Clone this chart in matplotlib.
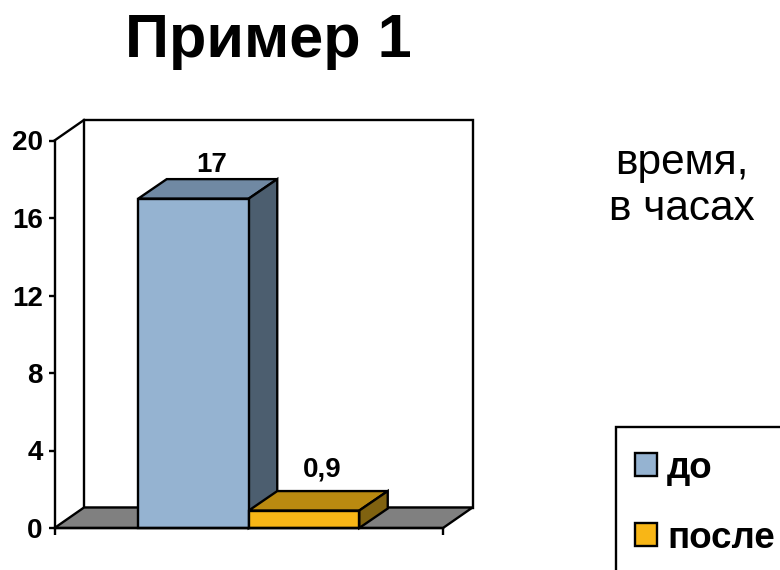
import matplotlib
matplotlib.use("Agg")
import matplotlib.pyplot as plt
from matplotlib.patches import Polygon, Patch, Rectangle

plt.rcParams['font.family'] = ['Liberation Sans', 'DejaVu Sans']

title = "Пример 1"
note = "время,\nв часах"
series = ["до", "после"]
values = [17, 0.9]
yticks = [0, 4, 8, 12, 16, 20]

front = ["#95B3D1", "#F8B616"]
top = ["#7089A3", "#BA8A10"]
side = ["#4C5E6F", "#806210"]
floor = "#808080"
lw = 1.7
W, H = 780, 570

fig = plt.figure(figsize=(W / 100, H / 100), dpi=100, facecolor="white")
L, R, T, B = 54.5, 443, 140.5, 528
ax = fig.add_axes([L / W, 1 - B / H, (R - L) / W, (B - T) / H], facecolor="none")

# x unit = one bar width, y unit = chart value
px_x = 110.5
x0 = 193.5
ax.set_xlim((L - x0) / px_x, (R - x0) / px_x)
ax.set_ylim(0, 20)
xmin, xmax = ax.get_xlim()
wall_dx, wall_dy = 29.5 / px_x, 20.5 / 19.375
bar_dx, bar_dy = 28.5 / px_x, 19.5 / 19.375


def poly(pts, fc, z):
    ax.add_patch(Polygon(pts, closed=True, facecolor=fc, edgecolor="black",
                         linewidth=lw, joinstyle="miter", clip_on=False, zorder=z))


# walls and floor
poly([(xmin + wall_dx, wall_dy), (xmin + wall_dx, 20 + wall_dy),
      (xmax + wall_dx, 20 + wall_dy), (xmax + wall_dx, wall_dy)], "white", 1)
poly([(xmin, 0), (xmin + wall_dx, wall_dy), (xmax + wall_dx, wall_dy), (xmax, 0)], floor, 1.5)
ax.plot([xmin, xmin + wall_dx], [20, 20 + wall_dy], color="black", lw=lw,
        clip_on=False, zorder=1.5)

# bars
label_gap = [1.35, 1.75]
for i, v in enumerate(values):
    a, b = i - 0.5, i + 0.5
    z = 3 + i * 0.1
    poly([(a, v), (a + bar_dx, v + bar_dy), (b + bar_dx, v + bar_dy), (b, v)], top[i], z)
    poly([(b, 0), (b + bar_dx, bar_dy), (b + bar_dx, v + bar_dy), (b, v)], side[i], z)
    ax.bar(i, v, width=1, color=front[i], edgecolor="black", linewidth=lw,
           zorder=z + 0.02, clip_on=False)
    ax.text(i + 0.165, v + label_gap[i], f"{v:g}".replace(".", ","), ha="center", va="baseline",
            fontsize=20, fontweight="bold", color="black", zorder=5)

# axes
for s in ("top", "right"):
    ax.spines[s].set_visible(False)
for s in ("left", "bottom"):
    ax.spines[s].set_linewidth(lw)
    ax.spines[s].set_zorder(4)
ax.set_yticks(yticks)
ax.set_xticks([xmin, xmax])
ax.set_xticklabels([])
ax.tick_params(axis="y", length=4.5, width=lw, pad=4, labelsize=20)
ax.tick_params(axis="x", length=5, width=lw)
for t in ax.get_yticklabels():
    t.set_fontweight("bold")

fig.text(268 / W, 1 - 57 / H, title, ha="center", va="baseline", fontsize=44, fontweight="bold")
fig.text(682 / W, 1 - 186 / H, note, ha="center", va="center", fontsize=30.5,
         linespacing=1.22, multialignment="center")

fig.add_artist(Rectangle((615.5 / W, 1 - 640 / H), 300 / W, 213 / H, transform=fig.transFigure,
                         facecolor="white", edgecolor="black", linewidth=lw))
handles = [Patch(facecolor=c, edgecolor="black", linewidth=lw) for c in front]
leg = fig.legend(handles, series, loc="upper left", bbox_to_anchor=(615.5 / W, 1 - 431 / H),
                 borderaxespad=0, handlelength=0.58, handleheight=0.58,
                 handletextpad=0.28, labelspacing=0.95, borderpad=0.54,
                 frameon=False, prop={"size": 26.5, "weight": "bold"})

fig.savefig("out.png", dpi=100)
